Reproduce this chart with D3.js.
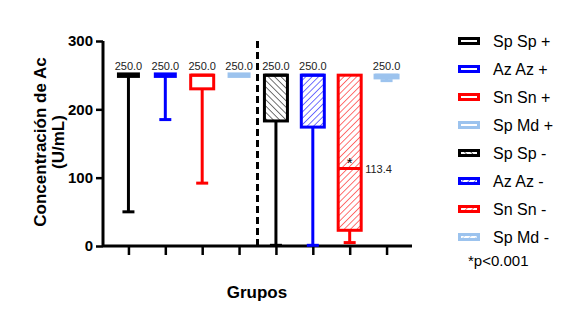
<!DOCTYPE html>
<html>
<head>
<meta charset="utf-8">
<script src="https://cdn.jsdelivr.net/npm/d3@7"></script>
<style>
  body { margin: 0; background: #fff; }
  svg { font-family: Arial, "Liberation Sans", sans-serif; display: block; }
</style>
</head>
<body>
<svg id="chart" width="566" height="336"></svg>
<script>
// data
const groups = ["Sp Sp +", "Az Az +", "Sn Sn +", "Sp Md +", "Sp Sp -", "Az Az -", "Sn Sn -", "Sp Md -"];
const mins    = [50, 185, 92, 250, 1, 1, 5, 242];
const q1s     = [250, 250, 230, 250, 183, 174, 23, 246];
const medians = [250, 250, 250, 250, 250, 250, 113.4, 250];
const q3s     = [250, 250, 250, 250, 250, 250, 250, 250];
const maxs    = [250, 250, 250, 250, 250, 250, 250, 250];
const colors  = ["#000000", "#0000ff", "#ff0000", "#9cc3ee", "#000000", "#0000ff", "#ff0000", "#9cc3ee"];
const hatched = [false, false, false, false, true, true, true, true];
const yTicks = [0, 100, 200, 300];

const svg = d3.select("#chart");
const defs = svg.append("defs");

// hatch patterns
colors.forEach((c, i) => {
    if (!hatched[i]) return;
    const p = defs.append("pattern")
        .attr("id", "hatch" + i)
        .attr("patternUnits", "userSpaceOnUse")
        .attr("width", 4.5).attr("height", 4.5)
        .attr("patternTransform", "rotate(" + (i === 4 ? -45 : 45) + ")");
    p.append("rect").attr("width", 4.5).attr("height", 4.5).attr("fill", "#fff");
    p.append("line").attr("x1", 0).attr("y1", 0).attr("x2", 0).attr("y2", 4.5)
        .attr("stroke", c).attr("stroke-width", 1.1);
});

const x = d3.scalePoint().domain(groups).range([103, 412]).padding(0.69);
const y = d3.scaleLinear().domain([0, 300]).range([246, 41]);
const boxW = 23;
const capW = 12;

// axes
const yAxis = svg.append("g").attr("transform", "translate(103,0)")
    .call(d3.axisLeft(y).tickValues(yTicks).tickSize(7).tickPadding(3));
yAxis.select(".domain").attr("stroke-width", 3).attr("d", "M0,41V246");
yAxis.selectAll(".tick line").attr("stroke-width", 2.5);
yAxis.selectAll(".tick text").attr("font-size", 15).attr("font-weight", "bold")
    .attr("font-family", "Arial, 'Liberation Sans', sans-serif").attr("fill", "#000");

const xAxis = svg.append("g").attr("transform", "translate(0,246)")
    .call(d3.axisBottom(x).tickSize(9).tickFormat(""));
xAxis.select(".domain").attr("stroke-width", 3).attr("d", "M103,0H412");
xAxis.selectAll(".tick line").attr("stroke-width", 2.5);

// divider
const xDiv = (x(groups[3]) + x(groups[4])) / 2;
svg.append("line")
    .attr("x1", xDiv).attr("x2", xDiv).attr("y1", y(300)).attr("y2", y(0))
    .attr("stroke", "#000").attr("stroke-width", 3).attr("stroke-dasharray", "7,4");

// boxes
const g = svg.append("g");
groups.forEach((name, i) => {
    const cx = x(name);
    const c = colors[i];
    // whisker
    if (mins[i] < q1s[i]) {
        g.append("line").attr("x1", cx).attr("x2", cx)
            .attr("y1", y(q1s[i])).attr("y2", y(mins[i]))
            .attr("stroke", c).attr("stroke-width", 3);
        g.append("line").attr("x1", cx - capW / 2).attr("x2", cx + capW / 2)
            .attr("y1", y(mins[i])).attr("y2", y(mins[i]))
            .attr("stroke", c).attr("stroke-width", 3);
    }
    const h = y(q1s[i]) - y(q3s[i]);
    if (h > 0) {
        g.append("rect").attr("x", cx - boxW / 2).attr("y", y(q3s[i]))
            .attr("width", boxW).attr("height", h)
            .attr("fill", hatched[i] ? "url(#hatch" + i + ")" : "#fff")
            .attr("stroke", c).attr("stroke-width", 3);
    }
    // median line
    g.append("line").attr("x1", cx - boxW / 2).attr("x2", cx + boxW / 2)
        .attr("y1", y(medians[i])).attr("y2", y(medians[i]))
        .attr("stroke", c).attr("stroke-width", h > 0 ? 3 : 5.5);
    // labels
    if (medians[i] === q3s[i]) {
        g.append("text").attr("x", cx).attr("y", y(q3s[i]) - 5)
            .attr("text-anchor", "middle").attr("font-size", 11).attr("fill", "#222")
            .text(medians[i].toFixed(1));
    } else {
        g.append("text").attr("x", cx + boxW / 2 + 4).attr("y", y(medians[i]) + 4)
            .attr("font-size", 11).attr("fill", "#222").text(medians[i].toFixed(1));
        g.append("text").attr("x", cx).attr("y", y(medians[i]) - 1)
            .attr("text-anchor", "middle").attr("font-size", 15).text("*");
    }
});

// axis titles
svg.append("text")
    .attr("transform", "translate(0,142) rotate(-90)")
    .attr("text-anchor", "middle").attr("font-size", 17).attr("font-weight", "bold")
    .selectAll("tspan").data(["Concentración de Ac", "(U/mL)"]).join("tspan")
    .attr("x", 0).attr("y", (d, i) => i === 0 ? 46 : 64).text(d => d);

svg.append("text").attr("x", 257).attr("y", 298)
    .attr("text-anchor", "middle").attr("font-size", 17).attr("font-weight", "bold")
    .text("Grupos");

// legend
const legend = svg.append("g");
groups.forEach((name, i) => {
    const ly = 41 + i * 28;
    legend.append("rect").attr("x", 459.5).attr("y", ly - 2.5)
        .attr("width", 19).attr("height", 5)
        .attr("fill", hatched[i] ? "url(#hatch" + i + ")" : "#fff")
        .attr("stroke", colors[i]).attr("stroke-width", 3);
    legend.append("text").attr("x", 493).attr("y", ly + 6)
        .attr("font-size", 16).text(name);
});
legend.append("text").attr("x", 468).attr("y", 266)
    .attr("font-size", 15).text("*p<0.001");
</script>
</body>
</html>
